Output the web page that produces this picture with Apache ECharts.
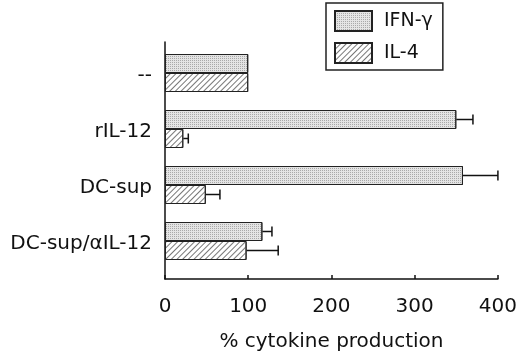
<!DOCTYPE html>
<html>
<head>
<meta charset="utf-8">
<script src="https://cdn.jsdelivr.net/npm/echarts@6/dist/echarts.min.js"></script>
<style>html,body{margin:0;padding:0;background:#fff}#c{width:520px;height:363px}</style>
</head>
<body>
<div id="c"></div>
<script>
const categories = ['--', 'rIL-12', 'DC-sup', 'DC-sup/\u03b1IL-12'];
const ifnValues = [100, 350, 358, 117];
const ifnErrors = [0, 20, 42, 11.5];
const il4Values = [100, 22, 49, 98];
const il4Errors = [0, 6, 17, 38];
const xTicks = [0, 100, 200, 300, 400];

const FONT = 'DejaVu Sans';
const BAR_W = 19;

function errData(vals, errs) {
  return vals.map((v, i) => [i, v, v + errs[i]]);
}
function errSeries(vals, errs, sign) {
  return {
    type: 'custom',
    xAxisIndex: 0, yAxisIndex: 0,
    data: errData(vals, errs),
    encode: { x: [1, 2], y: 0 },
    z: 5,
    silent: true,
    renderItem: function (params, api) {
      const cat = api.value(0), v = api.value(1), hi = api.value(2);
      if (hi <= v) return null;
      const a = api.coord([v, cat]);
      const b = api.coord([hi, cat]);
      const y = a[1] + sign * BAR_W / 2;
      const style = { stroke: '#111', lineWidth: 1.5, fill: null };
      return {
        type: 'group',
        children: [
          { type: 'line', shape: { x1: a[0], y1: y, x2: b[0], y2: y }, style: style },
          { type: 'line', shape: { x1: b[0], y1: y - 5, x2: b[0], y2: y + 5 }, style: style }
        ]
      };
    }
  };
}

const chart = echarts.init(document.getElementById('c'), null, { renderer: 'canvas' });
chart.setOption({
  animation: false,
  backgroundColor: '#fff',
  textStyle: { fontFamily: FONT, color: '#111' },
  legend: {
    data: ['IFN-\u03b3', 'IL-4'],
    orient: 'vertical',
    left: 326, top: 3,
    padding: [7, 10, 6, 8],
    icon: 'rect',
    itemWidth: 37, itemHeight: 20, itemGap: 10,
    borderColor: '#222', borderWidth: 1.5,
    textStyle: { fontFamily: FONT, fontSize: 19, color: '#111', padding: [0, 0, 0, 7] }
  },
  grid: [
    { left: 165, top: 45, height: 224, width: 333, containLabel: false },
    { left: 165, top: 42, height: 237, width: 333, containLabel: false }
  ],
  xAxis: [
    {
      gridIndex: 0, type: 'value', min: 0, max: 400, interval: 100,
      offset: 10,
      axisLine: { show: true, lineStyle: { color: '#111', width: 1.5 } },
      axisTick: { show: true, inside: true, length: 4, lineStyle: { color: '#111', width: 1.5 } },
      axisLabel: { margin: 18, fontSize: 20, color: '#111', fontFamily: FONT,
        formatter: v => xTicks.indexOf(v) >= 0 ? String(v) : '' },
      splitLine: { show: false },
      name: '% cytokine production', nameLocation: 'middle', nameGap: 53,
      nameTextStyle: { fontSize: 20, color: '#111', fontFamily: FONT }
    },
    { gridIndex: 1, type: 'value', show: false }
  ],
  yAxis: [
    {
      gridIndex: 0, type: 'category', data: categories, inverse: true,
      axisLine: { show: false },
      axisTick: { show: false },
      axisLabel: { margin: 13, fontSize: 20, color: '#111', fontFamily: FONT, verticalAlign: 'top', lineHeight: 6 }
    },
    {
      gridIndex: 1, type: 'value',
      axisLine: { show: true, lineStyle: { color: '#111', width: 1.5 } },
      axisTick: { show: false }, axisLabel: { show: false }, splitLine: { show: false }
    }
  ],
  series: [
    {
      name: 'IFN-\u03b3', type: 'bar', data: ifnValues,
      barWidth: BAR_W, barGap: '0%',
      itemStyle: {
        color: '#e4e4e4', borderColor: '#222', borderWidth: 1,
        decal: { symbol: 'rect', symbolSize: 1, dashArrayX: [1, 1], dashArrayY: [1, 1], color: 'rgba(120,120,120,0.55)' }
      }
    },
    {
      name: 'IL-4', type: 'bar', data: il4Values,
      barWidth: BAR_W, barGap: '0%',
      itemStyle: {
        color: '#fff', borderColor: '#222', borderWidth: 1,
        decal: { symbol: 'rect', symbolSize: 1, dashArrayX: [1, 0], dashArrayY: [1, 2.6], rotation: -Math.PI / 4, color: '#777' }
      }
    },
    errSeries(ifnValues, ifnErrors, -1),
    errSeries(il4Values, il4Errors, 1)
  ]
});
</script>
</body>
</html>
